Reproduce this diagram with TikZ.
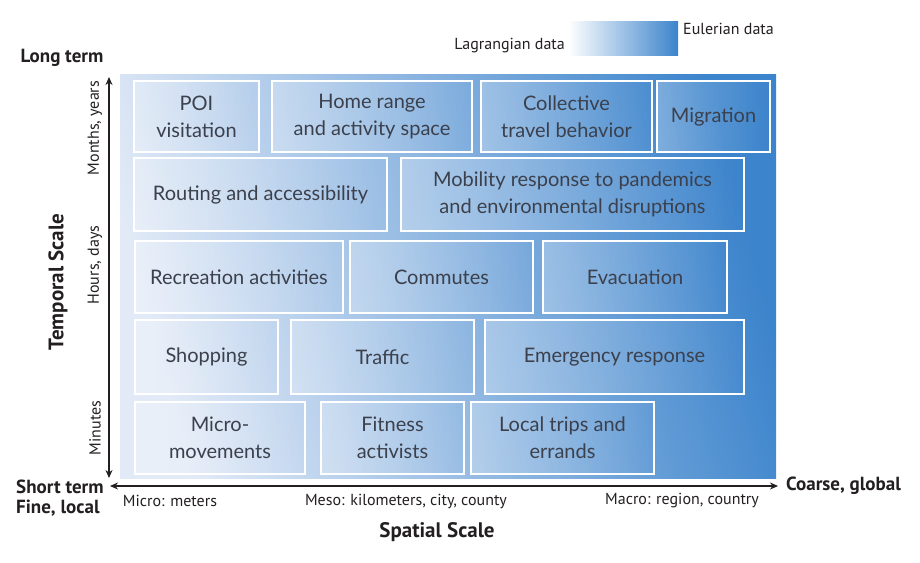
\documentclass[tikz,border=0pt]{standalone}
\usepackage{fontspec}
\newfontfamily\boxfont{Lato}
\newfontfamily\axisfont{PT Sans}
\usetikzlibrary{arrows.meta,fadings}
\definecolor{bgleft}{HTML}{E2EAF7}
\definecolor{bgmid}{HTML}{A6C1E8}
\definecolor{bgright}{HTML}{3C84CC}
\definecolor{boxtext}{HTML}{3B404C}
\definecolor{axistext}{HTML}{231F20}
\tikzfading[name=boxfade, left color=transparent!72, right color=transparent!100]
\tikzset{
  area/.style={draw=white, line width=1.2pt, inner sep=0pt, align=center,
    text=boxtext, font=\boxfont\fontsize{20}{27}\selectfont,
    preaction={fill=white, path fading=boxfade}},
  scalelbl/.style={text=axistext, font=\axisfont\fontsize{16}{18}\selectfont, inner sep=1pt},
  endlbl/.style={text=axistext, font=\axisfont\bfseries\fontsize{19}{22}\selectfont, inner sep=1pt},
  titlelbl/.style={endlbl, font=\axisfont\bfseries\fontsize{21}{24}\selectfont},
  axisarrow/.style={line width=1.4pt, axistext, {Stealth[length=8pt,width=7pt]}-{Stealth[length=8pt,width=7pt]}}
}
\begin{document}
\begin{tikzpicture}[x=1pt,y=-1pt]
  \useasboundingbox (0,0) rectangle (920,562);
  % background gradient
  \shade[left color=bgleft, middle color=bgmid, right color=bgright, shading angle=105]
    (120,74) rectangle (776,478);
  % legend
  \shade[left color=white, right color=bgright] (568,21) rectangle (678,55);
  \node[scalelbl, anchor=west] (euler) at (682,29) {Eulerian data};
  \node[scalelbl, anchor=east] (lagr) at (566,46) {Lagrangian data};
  % activity boxes
  \foreach \n/\xa/\ya/\xb/\yb/\t in {
      poi/134/80/259/151/{POI\\visitation},
      home/272/80/472/151/{Home range\\and activity space},
      collective/481/80/652/151/{Collective\\travel behavior},
      migration/657/80/770/151/{Migration},
      routing/134/157/387/230/{Routing and accessibility},
      response/401/157/744/230/{Mobility response to pandemics\\and environmental disruptions},
      recreation/135/240/343/312/{Recreation activities},
      commutes/350/240/533/312/{Commutes},
      evacuation/543/240/727/312/{Evacuation},
      shopping/135/319/278/393/{Shopping},
      traffic/291/319/474/393/{Traffic},
      emergency/485/319/744/393/{Emergency response},
      micro/135/401/305/473/{Micro-\\movements},
      fitness/321/401/464/473/{Fitness\\activists},
      errands/471/401/654/473/{Local trips and\\errands}}
    \node[area, minimum width={(\xb-\xa)*1pt}, minimum height={(\yb-\ya)*1pt}]
      (\n) at ({(\xa+\xb)/2},{(\ya+\yb)/2+1}) {\t};
  % axes
  \coordinate (vbot) at (109,478);
  \coordinate (vtop) at (109,77);
  \coordinate (hleft) at (110,486);
  \coordinate (hright) at (778,486);
  \draw[axisarrow] (vbot) -- (vtop);
  \draw[axisarrow] (hleft) -- (hright);
  % axis labels
  \node[endlbl] (longterm) at (62,58) {Long term};
  \node[endlbl, anchor=west] (shortterm) at (15,487) {Short term};
  \node[endlbl, anchor=west] (finelocal) at (15,508) {Fine, local};
  \node[endlbl, anchor=west] (coarse) at (785,486) {Coarse, global};
  \node[titlelbl, rotate=90] (temporal) at (58,282) {Temporal Scale};
  \node[titlelbl] (spatial) at (437,532) {Spatial Scale};
  \node[scalelbl, rotate=90] (months) at (95,128) {Months, years};
  \node[scalelbl, rotate=90] (hours) at (95,265) {Hours, days};
  \node[scalelbl, rotate=90] (minutes) at (95,428) {Minutes};
  \node[scalelbl] (microlbl) at (170,501) {Micro: meters};
  \node[scalelbl] (mesolbl) at (406,501) {Meso: kilometers, city, county};
  \node[scalelbl] (macrolbl) at (682,501) {Macro: region, country};
\end{tikzpicture}
\end{document}
